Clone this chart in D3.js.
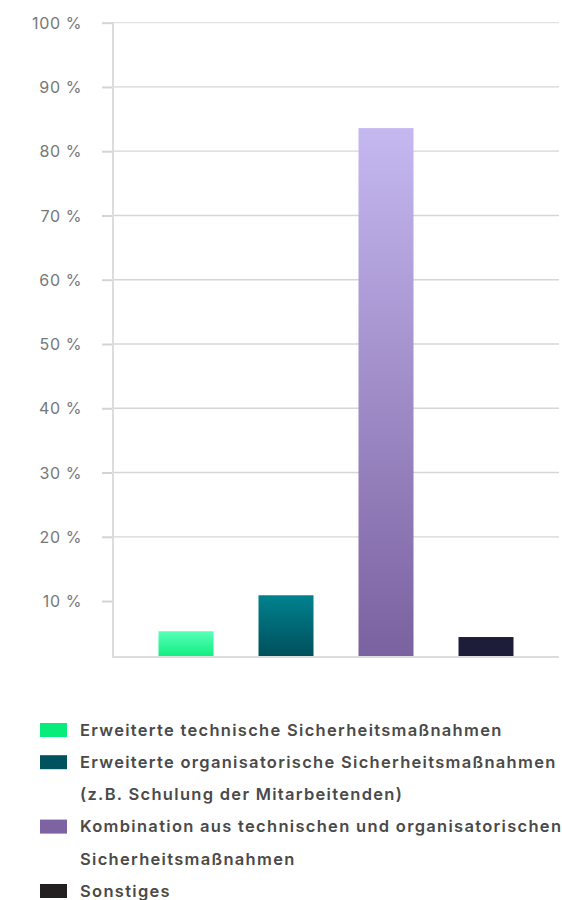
<!DOCTYPE html>
<html><head><meta charset="utf-8">
<script src="https://cdn.jsdelivr.net/npm/d3@7"></script>
<style>
html,body{margin:0;padding:0;background:#fff;}
svg{display:block;}
</style></head>
<body>
<script>
// ---- data ----
const categories = ["Erweiterte technische Sicherheitsmaßnahmen",
  "Erweiterte organisatorische Sicherheitsmaßnahmen (z.B. Schulung der Mitarbeitenden)",
  "Kombination aus technischen und organisatorischen Sicherheitsmaßnahmen",
  "Sonstiges"];
const legendLines = [
  ["Erweiterte technische Sicherheitsmaßnahmen"],
  ["Erweiterte organisatorische Sicherheitsmaßnahmen", "(z.B. Schulung der Mitarbeitenden)"],
  ["Kombination aus technischen und organisatorischen", "Sicherheitsmaßnahmen"],
  ["Sonstiges"]
];
const values = [5.3, 10.9, 83.6, 4.4];
const yTicks = [10, 20, 30, 40, 50, 60, 70, 80, 90, 100];
const yTickLabels = ["10 %", "20 %", "30 %", "40 %", "50 %", "60 %", "70 %", "80 %", "90 %", "100 %"];
const axisFloor = 1.3;

const gradTop = ["#58ffb8", "#00828f", "#c5b8f1", "#1d1d39"];
const gradBottom = ["#0eee80", "#004f5b", "#7a619f", "#1d1d39"];
const swatchColors = ["#08ec7c", "#00525e", "#7d63a1", "#231f20"];

const W = 562, H = 900;
const svg = d3.select("body").append("svg").attr("width", W).attr("height", H);

const y = d3.scaleLinear().domain([0, 100]).range([665.3, 22.7]);
const x = d3.scaleBand().domain(categories).range([113, 559]).paddingInner(0.45).paddingOuter(0.455);

const defs = svg.append("defs");
categories.forEach((c, i) => {
  const g = defs.append("linearGradient").attr("id", "g" + i).attr("x1", 0).attr("y1", 0).attr("x2", 0).attr("y2", 1);
  g.append("stop").attr("offset", "0%").attr("stop-color", gradTop[i]);
  g.append("stop").attr("offset", "100%").attr("stop-color", gradBottom[i]);
});

// gridlines (no line at 10 %)
svg.append("g").selectAll("line").data(yTicks.filter(t => t !== 10)).join("line")
  .attr("x1", 113).attr("x2", 559)
  .attr("y1", d => y(d)).attr("y2", d => y(d))
  .attr("stroke", d => d === 100 ? "#e2e2e2" : "#d6d6d6").attr("stroke-width", 1.3);

// y axis
const yAxis = d3.axisLeft(y).tickValues(yTicks).tickFormat((d, i) => yTickLabels[i]).tickSize(11).tickPadding(20);
const ga = svg.append("g").attr("transform", "translate(113,0)").call(yAxis);
ga.select(".domain").remove();
ga.selectAll(".tick line").attr("stroke", "#d4d4d4").attr("stroke-width", 2);
ga.selectAll(".tick text").attr("fill", "#777").attr("font-family", "Inter, 'Noto Sans', sans-serif")
  .attr("font-size", 16).attr("letter-spacing", 0.6).attr("dy", "0.35em");

// axis lines
svg.append("line").attr("x1", 113).attr("x2", 113).attr("y1", y(100)).attr("y2", y(axisFloor)+1)
  .attr("stroke", "#dcdcdc").attr("stroke-width", 2);

// bars
svg.append("g").selectAll("rect").data(values).join("rect")
  .attr("x", (d, i) => x(categories[i]))
  .attr("width", x.bandwidth())
  .attr("y", d => y(d))
  .attr("height", d => y(axisFloor) - y(d))
  .attr("fill", (d, i) => `url(#g${i})`);

svg.append("line").attr("x1", 112).attr("x2", 559).attr("y1", y(axisFloor)).attr("y2", y(axisFloor))
  .attr("stroke", "#dcdcdc").attr("stroke-width", 2);

// legend
const lg = svg.append("g");
let row = 0;
const rowY = 730, rowH = 32.2;
legendLines.forEach((lines, i) => {
  const cy = rowY + row * rowH;
  lg.append("rect").attr("x", 40).attr("y", cy - 7).attr("width", 27).attr("height", 14).attr("fill", swatchColors[i]);
  lines.forEach((t, j) => {
    lg.append("text").attr("x", 80).attr("y", rowY + (row + j) * rowH).attr("dy", "0.35em")
      .attr("font-family", "Inter, 'Noto Sans', sans-serif").attr("font-weight", 600)
      .attr("font-size", 16.5).attr("letter-spacing", 1.3).attr("fill", "#4a4a4a").text(t);
  });
  row += lines.length;
});
</script>
</body></html>
